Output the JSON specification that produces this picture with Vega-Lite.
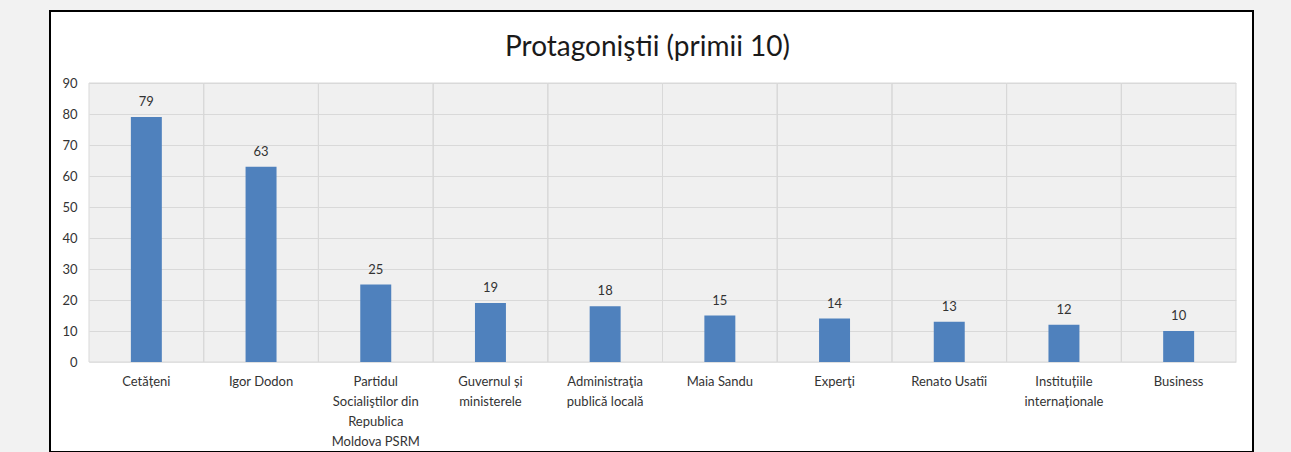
{
  "$schema": "https://vega.github.io/schema/vega-lite/v6.json",
  "width": 1203,
  "height": 441,
  "autosize": {"type": "none"},
  "padding": {"left": 50, "top": 11, "right": 38, "bottom": 0},
  "background": "#f2f2f2",
  "title": {
    "text": "Protagoniştii (primii 10)",
    "font": "Lato",
    "fontSize": 28,
    "fontWeight": "normal",
    "color": "#1a1a1a",
    "anchor": "middle",
    "frame": "group",
    "baseline": "alphabetic",
    "offset": -73,
    "dx": -4
  },
  "data": {
    "values": [
      {"cat": "Cetățeni", "v": 79},
      {"cat": "Igor Dodon", "v": 63},
      {"cat": "Partidul|Socialiştilor din|Republica|Moldova PSRM", "v": 25},
      {"cat": "Guvernul și|ministerele", "v": 19},
      {"cat": "Administraţia|publică locală", "v": 18},
      {"cat": "Maia Sandu", "v": 15},
      {"cat": "Experţi", "v": 14},
      {"cat": "Renato Usatîi", "v": 13},
      {"cat": "Instituțiile|internaționale", "v": 12},
      {"cat": "Business", "v": 10}
    ]
  },
  "encoding": {
    "x": {
      "field": "cat",
      "type": "nominal",
      "sort": null,
      "scale": {"type": "band", "paddingInner": 0, "paddingOuter": 0, "range": [39, 1186]},
      "axis": {
        "title": null,
        "orient": "bottom",
        "offset": -90,
        "domain": false,
        "ticks": false,
        "grid": false,
        "labelAngle": 0,
        "labelAlign": "center",
        "labelExpr": "split(datum.label, '|')",
        "labelLineHeight": 20,
        "labelPadding": 13,
        "labelFont": "Lato",
        "labelFontSize": 13,
        "labelColor": "#333333",
        "labelLimit": 300
      }
    }
  },
  "layer": [
    {
      "mark": {"type": "rect", "fill": "#000000", "fillOpacity": 0.06, "stroke": "#d9d9d9", "strokeWidth": 1},
      "encoding": {
        "y": {
          "datum": 0,
          "type": "quantitative",
          "scale": {"domain": [0, 90], "range": [351, 72], "nice": false, "zero": true},
          "axis": {
            "title": null,
            "orient": "left",
            "offset": -39,
            "values": [0, 10, 20, 30, 40, 50, 60, 70, 80, 90],
            "domain": false,
            "ticks": false,
            "grid": true,
            "gridColor": "#e7e7e7",
            "gridWidth": 1,
            "labelPadding": 12,
            "labelFont": "Lato",
            "labelFontSize": 13,
            "labelColor": "#333333"
          }
        },
        "y2": {"datum": 90}
      }
    },
    {
      "mark": {"type": "bar", "color": "#4f81bd", "width": {"band": 0.27}},
      "encoding": {
        "y": {"field": "v", "type": "quantitative"}
      }
    },
    {
      "mark": {"type": "text", "font": "Lato", "fontSize": 13, "color": "#333333", "baseline": "alphabetic", "dy": -11},
      "encoding": {
        "y": {"field": "v", "type": "quantitative"},
        "text": {"field": "v", "type": "quantitative"}
      }
    }
  ],
  "config": {
    "view": {"stroke": "#000000", "strokeWidth": 2, "fill": "#ffffff"}
  }
}
